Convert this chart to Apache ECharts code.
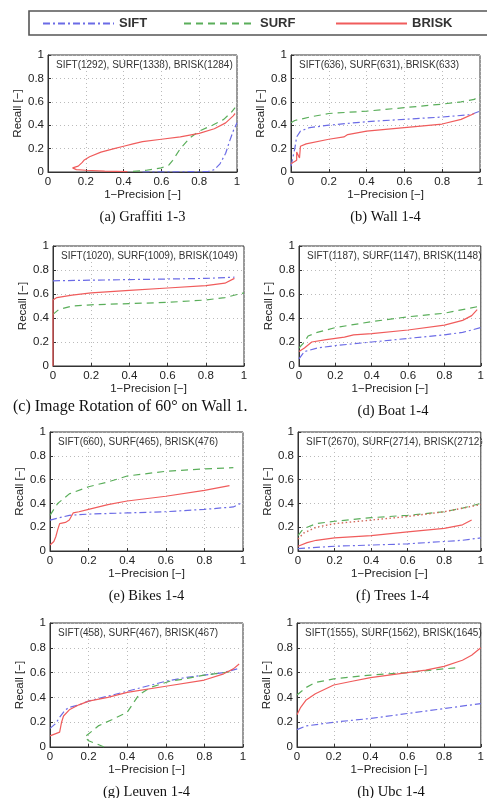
<!DOCTYPE html>
<html>
<head>
<meta charset="utf-8">
<title>Recall vs 1-Precision</title>
<script src="https://cdn.jsdelivr.net/npm/echarts@6/dist/echarts.min.js"></script>
<style>
  html, body { margin: 0; padding: 0; background: #fff; }
  #chart { width: 487px; height: 798px; }
</style>
</head>
<body>
<div id="chart"></div>
<script>
// panel titles, captions and keypoint counts
const captions = ['(a) Graffiti 1-3', '(b) Wall 1-4', '(c) Image Rotation of 60\u00b0 on Wall 1.', '(d) Boat 1-4',
  '(e) Bikes 1-4', '(f) Trees 1-4', '(g) Leuven 1-4', '(h) Ubc 1-4'];
const counts = ['SIFT(1292), SURF(1338), BRISK(1284)', 'SIFT(636), SURF(631), BRISK(633)',
  'SIFT(1020), SURF(1009), BRISK(1049)', 'SIFT(1187), SURF(1147), BRISK(1148)',
  'SIFT(660), SURF(465), BRISK(476)', 'SIFT(2670), SURF(2714), BRISK(2712)',
  'SIFT(458), SURF(467), BRISK(467)', 'SIFT(1555), SURF(1562), BRISK(1645)'];

// curves: [1-precision, recall]
const graffitiSIFT = [[0.5, 0], [0.7, 0.002], [0.85, 0.005], [0.88, 0.02], [0.91, 0.07], [0.94, 0.16], [0.96, 0.26], [0.98, 0.35], [1.0, 0.42]];
const graffitiSURF = [[0.45, 0.005], [0.52, 0.015], [0.6, 0.035], [0.64, 0.06], [0.66, 0.1], [0.7, 0.2], [0.75, 0.29], [0.8, 0.35], [0.87, 0.4], [0.93, 0.45], [0.97, 0.51], [0.99, 0.55]];
const graffitiBRISK = [[0.42, 0.003], [0.3, 0.008], [0.2, 0.015], [0.15, 0.02], [0.13, 0.035], [0.16, 0.05], [0.18, 0.08], [0.19, 0.1], [0.22, 0.13], [0.28, 0.17], [0.35, 0.2], [0.4, 0.22], [0.45, 0.24], [0.5, 0.26], [0.6, 0.28], [0.7, 0.3], [0.8, 0.33], [0.88, 0.37], [0.94, 0.42], [0.98, 0.48], [0.99, 0.5]];

const wallSIFT = [[0.0, 0.05], [0.02, 0.2], [0.03, 0.3], [0.05, 0.35], [0.1, 0.38], [0.2, 0.4], [0.4, 0.43], [0.6, 0.45], [0.8, 0.47], [0.95, 0.49], [1.0, 0.52]];
const wallSURF = [[0.0, 0.42], [0.02, 0.44], [0.1, 0.47], [0.2, 0.5], [0.4, 0.52], [0.6, 0.55], [0.8, 0.58], [0.9, 0.6], [0.97, 0.62], [1.0, 0.66]];
const wallBRISK = [[0.0, 0.07], [0.03, 0.1], [0.03, 0.17], [0.045, 0.12], [0.05, 0.22], [0.08, 0.24], [0.2, 0.28], [0.28, 0.3], [0.3, 0.32], [0.4, 0.35], [0.6, 0.38], [0.8, 0.41], [0.9, 0.45], [0.97, 0.5]];

const rotSIFT = [[0.0, 0.71], [0.2, 0.715], [0.4, 0.72], [0.6, 0.725], [0.8, 0.73], [0.95, 0.74]];
const rotSURF = [[0.0, 0.43], [0.03, 0.47], [0.1, 0.5], [0.2, 0.51], [0.4, 0.52], [0.6, 0.53], [0.8, 0.55], [0.9, 0.57], [1.0, 0.61]];
const rotBRISK = [[0.0, 0.0], [0.0, 0.55], [0.02, 0.57], [0.1, 0.59], [0.2, 0.61], [0.4, 0.63], [0.6, 0.65], [0.8, 0.67], [0.9, 0.69], [0.95, 0.73]];

const boatSIFT = [[0.0, 0.06], [0.03, 0.12], [0.1, 0.15], [0.2, 0.17], [0.4, 0.2], [0.6, 0.23], [0.8, 0.26], [0.9, 0.28], [1.0, 0.32]];
const boatSURF = [[0.0, 0.15], [0.03, 0.2], [0.05, 0.25], [0.1, 0.28], [0.2, 0.32], [0.4, 0.37], [0.6, 0.41], [0.8, 0.44], [0.9, 0.47], [1.0, 0.5]];
const boatBRISK = [[0.0, 0.12], [0.03, 0.15], [0.07, 0.2], [0.15, 0.22], [0.25, 0.24], [0.3, 0.26], [0.4, 0.27], [0.6, 0.3], [0.8, 0.34], [0.9, 0.38], [0.95, 0.42], [0.98, 0.47]];

const bikesSIFT = [[0.0, 0.26], [0.05, 0.28], [0.1, 0.3], [0.2, 0.31], [0.4, 0.32], [0.6, 0.33], [0.8, 0.35], [0.95, 0.37], [1.0, 0.41]];
const bikesSURF = [[0.0, 0.3], [0.02, 0.35], [0.04, 0.4], [0.1, 0.48], [0.2, 0.54], [0.3, 0.58], [0.4, 0.63], [0.6, 0.67], [0.8, 0.69], [0.95, 0.7]];
const bikesBRISK = [[0.0, 0.05], [0.02, 0.08], [0.03, 0.12], [0.04, 0.18], [0.05, 0.23], [0.08, 0.24], [0.1, 0.26], [0.12, 0.32], [0.15, 0.33], [0.2, 0.35], [0.3, 0.39], [0.4, 0.42], [0.6, 0.46], [0.8, 0.51], [0.93, 0.55]];

const treesSIFT = [[0.0, 0.02], [0.1, 0.03], [0.2, 0.04], [0.4, 0.05], [0.6, 0.06], [0.8, 0.08], [0.9, 0.09], [1.0, 0.11]];
const treesSURF = [[0.0, 0.13], [0.02, 0.17], [0.05, 0.2], [0.1, 0.23], [0.2, 0.25], [0.4, 0.28], [0.6, 0.3], [0.8, 0.33], [0.9, 0.36], [1.0, 0.4]];
const treesBRISK = [[0.0, 0.04], [0.05, 0.07], [0.1, 0.09], [0.2, 0.11], [0.4, 0.13], [0.6, 0.16], [0.8, 0.19], [0.9, 0.22], [0.95, 0.26]];
const treesDotted = [[0.0, 0.1], [0.03, 0.15], [0.1, 0.2], [0.2, 0.23], [0.4, 0.26], [0.6, 0.29], [0.8, 0.33], [0.9, 0.36], [1.0, 0.39]];

const leuvenSIFT = [[0.0, 0.15], [0.03, 0.19], [0.05, 0.24], [0.08, 0.3], [0.1, 0.32], [0.15, 0.34], [0.2, 0.37], [0.3, 0.41], [0.4, 0.45], [0.5, 0.49], [0.6, 0.53], [0.7, 0.56], [0.8, 0.58], [0.9, 0.6], [0.97, 0.63]];
const leuvenSURF = [[0.28, 0.0], [0.25, 0.02], [0.2, 0.05], [0.18, 0.08], [0.25, 0.17], [0.32, 0.22], [0.4, 0.28], [0.43, 0.35], [0.46, 0.42], [0.52, 0.48], [0.62, 0.53], [0.7, 0.55], [0.8, 0.58], [0.95, 0.61]];
const leuvenBRISK = [[0.0, 0.09], [0.05, 0.12], [0.06, 0.2], [0.07, 0.25], [0.1, 0.3], [0.15, 0.34], [0.2, 0.37], [0.3, 0.4], [0.4, 0.44], [0.6, 0.49], [0.8, 0.54], [0.9, 0.59], [0.95, 0.63], [0.98, 0.67]];

const ubcSIFT = [[0.0, 0.14], [0.05, 0.17], [0.2, 0.2], [0.4, 0.23], [0.6, 0.27], [0.8, 0.31], [1.0, 0.35]];
const ubcSURF = [[0.0, 0.42], [0.05, 0.48], [0.1, 0.52], [0.2, 0.55], [0.4, 0.58], [0.6, 0.6], [0.8, 0.63], [0.88, 0.64]];
const ubcBRISK = [[0.0, 0.26], [0.02, 0.32], [0.05, 0.38], [0.1, 0.43], [0.2, 0.5], [0.3, 0.53], [0.4, 0.56], [0.6, 0.6], [0.7, 0.62], [0.8, 0.65], [0.9, 0.7], [0.95, 0.74], [1.0, 0.8]];

const panels = [
  [graffitiSIFT, graffitiSURF, graffitiBRISK],
  [wallSIFT, wallSURF, wallBRISK],
  [rotSIFT, rotSURF, rotBRISK],
  [boatSIFT, boatSURF, boatBRISK],
  [bikesSIFT, bikesSURF, bikesBRISK],
  [treesSIFT, treesSURF, treesBRISK],
  [leuvenSIFT, leuvenSURF, leuvenBRISK],
  [ubcSIFT, ubcSURF, ubcBRISK]
];

// plot boxes (left, top, width, height)
const boxes = [
  [48, 55, 189, 117], [291, 55, 189, 117],
  [53, 246, 191, 120], [299, 246, 188, 120],
  [50, 432, 193, 119], [298, 432, 189, 119],
  [50, 623, 193, 124], [297, 623, 188, 124]
];

const BLUE = '#6b6be6', GREEN = '#5aae5a', RED = '#f05c5c';
const names = ['SIFT', 'SURF', 'BRISK'];
const styles = [
  { color: BLUE, width: 1.2, type: [7, 3, 2, 3] },
  { color: GREEN, width: 1.2, type: [7, 5] },
  { color: RED, width: 1.2, type: 'solid' }
];
const sans = 'Liberation Sans, Arial, Helvetica, sans-serif';
const serif = 'Liberation Serif, Times New Roman, serif';

const grid = [], xAxis = [], yAxis = [], series = [], graphic = [];

boxes.forEach((b, i) => {
  grid.push({ left: b[0], top: b[1], width: b[2], height: b[3], show: true, borderColor: '#333', borderWidth: 1, backgroundColor: '#fff' });
  const common = {
    gridIndex: i, type: 'value', min: 0, max: 1, interval: 0.2,
    axisLine: { show: true, lineStyle: { color: '#333', width: 1 } },
    axisTick: { show: true, inside: true, length: 3, lineStyle: { color: '#333' } },
    splitLine: { show: true, lineStyle: { color: '#bbb', type: [1, 3], width: 1 } },
    axisLabel: { color: '#222', fontSize: 11.5, fontFamily: sans, margin: 4, showMinLabel: true, showMaxLabel: true,
      formatter: v => (v === 0 || v === 1) ? String(v) : v.toFixed(1) },
    nameLocation: 'middle',
    nameTextStyle: { color: '#222', fontSize: 11.5, fontFamily: sans }
  };
  xAxis.push(Object.assign({}, common, { name: '1\u2212Precision [\u2212]', nameGap: 15 }));
  yAxis.push(Object.assign({}, common, { name: 'Recall [\u2212]', nameGap: 21 }));

  panels[i].forEach((d, k) => {
    series.push({
      type: 'line', name: names[k], xAxisIndex: i, yAxisIndex: i, data: d,
      showSymbol: false, symbol: 'none', animation: false,
      lineStyle: styles[k], itemStyle: { color: styles[k].color }, z: k === 2 ? 4 : 3
    });
  });
  if (i === 5) {
    series.push({
      type: 'line', name: 'BRISK dotted', xAxisIndex: i, yAxisIndex: i, data: treesDotted,
      showSymbol: false, symbol: 'none', animation: false,
      lineStyle: { color: '#d2685a', width: 1.4, type: [1.5, 2.5] }
    });
  }

  graphic.push({ type: 'text', left: b[0] + 8, top: b[1] + 5, silent: true,
    style: { text: counts[i], fill: '#333', font: '10px ' + sans } });
  if (i === 2) {
    graphic.push({ type: 'text', left: 13, top: 399, silent: true,
      style: { text: captions[i], fill: '#111', font: '16px ' + serif } });
  } else {
    graphic.push({ type: 'text', x: b[0] + b[2] / 2, y: b[1] + b[3] + 45, silent: true,
      style: { text: captions[i], fill: '#111', font: '14.5px ' + serif,
        textAlign: 'center', textVerticalAlign: 'middle' } });
  }
});

// legend frame
graphic.push({ type: 'rect', shape: { x: 29, y: 11, width: 470, height: 24 }, silent: true,
  style: { fill: '#fff', stroke: '#555', lineWidth: 1.6 }, z: -1 });

const legendBase = {
  top: 17, padding: 0, itemWidth: 71, itemHeight: 12, itemGap: 0,
  itemStyle: { opacity: 0 },
  textStyle: { color: '#333', fontSize: 13, fontWeight: 'bold', fontFamily: sans },
  selectedMode: false
};
const legend = [
  Object.assign({}, legendBase, { left: 42, data: ['SIFT'] }),
  Object.assign({}, legendBase, { left: 183, data: ['SURF'] }),
  Object.assign({}, legendBase, { left: 335, data: ['BRISK'] })
];

const chart = echarts.init(document.getElementById('chart'), null, { renderer: 'canvas' });
chart.setOption({ animation: false, backgroundColor: '#fff', grid, xAxis, yAxis, series, legend, graphic });
</script>
</body>
</html>
